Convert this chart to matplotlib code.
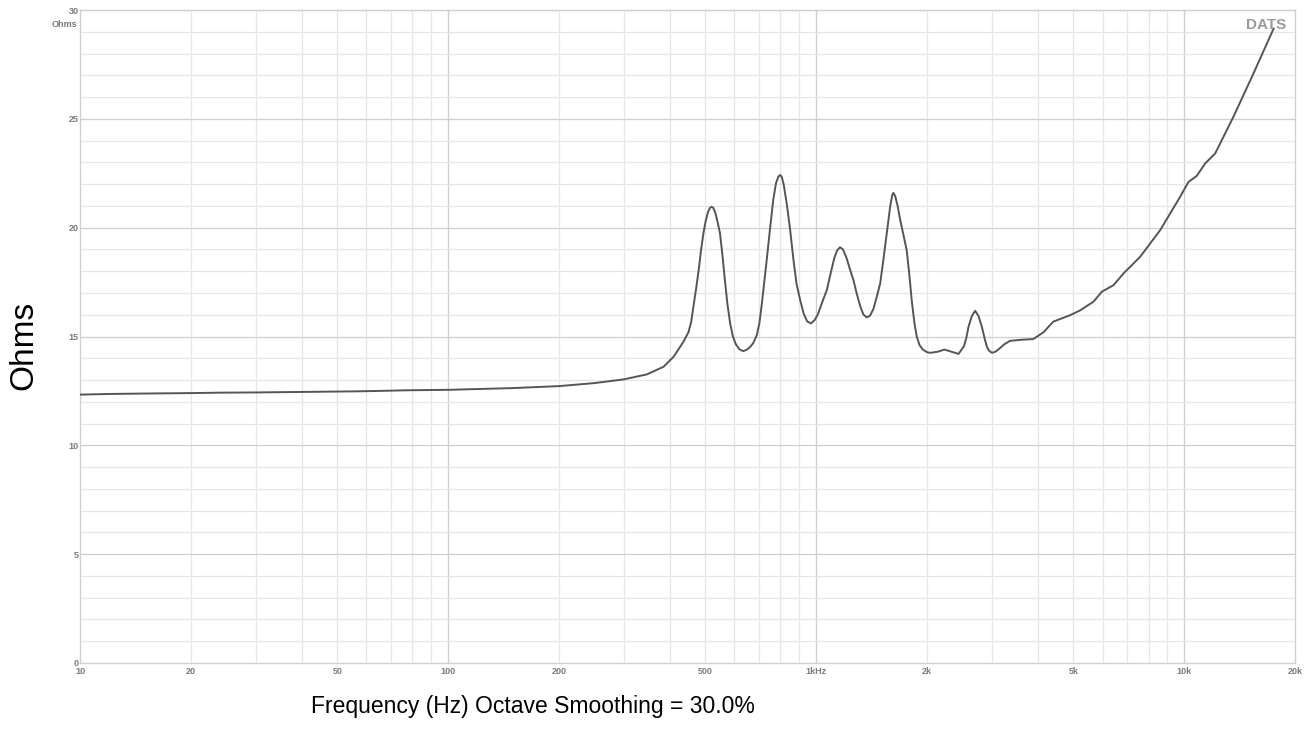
import numpy as np
import matplotlib
matplotlib.use('Agg')
import matplotlib.pyplot as plt
from matplotlib.ticker import FixedLocator, NullFormatter

# impedance curve
freq = [10, 12, 15, 20, 24, 30, 39, 56, 65, 78, 100, 150, 200, 250, 300, 347, 385, 410, 436, 450,
        458, 464, 472, 480, 487, 494, 501, 508, 514, 520, 526, 533, 540, 548, 556, 565, 574, 584,
        594, 605, 618, 633, 646, 660, 675, 690, 701, 712, 723, 734, 750, 765, 778, 790, 798, 806,
        816, 832, 850, 868, 885, 905, 925, 945, 968, 990, 1010, 1040, 1069, 1095, 1120, 1140, 1161,
        1183, 1210, 1235, 1263, 1290, 1320, 1345, 1373, 1400, 1430, 1460, 1493, 1525, 1560, 1590,
        1610, 1622, 1640, 1665, 1690, 1725, 1762, 1790, 1820, 1850, 1877, 1910, 1950, 2000, 2040,
        2140, 2232, 2330, 2437, 2520, 2560, 2594, 2650, 2704, 2760, 2820, 2870, 2910, 2950, 3001,
        3070, 3150, 3250, 3365, 3600, 3890, 4150, 4406, 4900, 5214, 5670, 5975, 6427, 6843, 7590,
        8607, 9750, 10270, 10820, 11400, 12140, 13610, 15420, 17500]
ohms = [12.33, 12.36, 12.38, 12.40, 12.42, 12.43, 12.45, 12.48, 12.50, 12.53, 12.55, 12.63, 12.72,
        12.86, 13.03, 13.26, 13.61, 14.07, 14.76, 15.2, 15.7, 16.37, 17.2, 18.1, 19.0, 19.74, 20.3,
        20.7, 20.9, 20.96, 20.9, 20.65, 20.25, 19.74, 18.8, 17.6, 16.5, 15.6, 15.0, 14.65, 14.42,
        14.33, 14.38, 14.5, 14.7, 15.07, 15.6, 16.5, 17.5, 18.51, 20.0, 21.3, 22.05, 22.35, 22.42,
        22.35, 22.0, 21.1, 19.89, 18.5, 17.4, 16.67, 16.05, 15.7, 15.6, 15.75, 16.0, 16.6, 17.13,
        17.9, 18.6, 18.95, 19.1, 19.0, 18.6, 18.1, 17.59, 16.95, 16.35, 16.0, 15.88, 15.95, 16.25,
        16.8, 17.44, 18.6, 19.9, 21.0, 21.5, 21.6, 21.45, 21.0, 20.4, 19.7, 18.97, 17.9, 16.6, 15.6,
        14.99, 14.6, 14.4, 14.28, 14.25, 14.3, 14.4, 14.3, 14.2, 14.55, 14.95, 15.45, 15.95, 16.18,
        15.95, 15.45, 14.9, 14.53, 14.35, 14.25, 14.3, 14.45, 14.65, 14.8, 14.85, 14.88, 15.2, 15.68,
        15.98, 16.2, 16.6, 17.06, 17.36, 17.9, 18.66, 19.89, 21.42, 22.1, 22.38, 22.95, 23.41, 25.1,
        27.08, 29.15]

xtick_vals = [10, 20, 50, 100, 200, 500, 1000, 2000, 5000, 10000, 20000]
xtick_labels = ['10', '20', '50', '100', '200', '500', '1kHz', '2k', '5k', '10k', '20k']
ytick_vals = [0, 5, 10, 15, 20, 25, 30]
ytick_labels = ['0', '5', '10', '15', '20', '25', '30']

plt.rcParams['font.family'] = ['Liberation Sans', 'DejaVu Sans']

fig = plt.figure(figsize=(13.06, 7.29), dpi=100)
ax = fig.add_axes([80 / 1306, 1 - 663 / 729, (1295 - 80) / 1306, (663 - 10) / 729])

# grid
minor_x = [m * 10 ** d for d in range(1, 5) for m in range(2, 10)]
for v in minor_x:
    if v < 20000:
        ax.axvline(v, color='#e6e6e6', lw=0.9, zorder=0)
for v in [100, 1000, 10000]:
    ax.axvline(v, color='#cfcfcf', lw=1.0, zorder=0)
for v in range(1, 30):
    ax.axhline(v, color='#cfcfcf' if v % 5 == 0 else '#e6e6e6', lw=0.9, zorder=0)

ax.plot(freq, ohms, color='#555555', lw=1.4, zorder=3, solid_joinstyle='round')

ax.set_xscale('log')
ax.set_xlim(10, 20000)
ax.set_ylim(0, 30)
ax.xaxis.set_major_locator(FixedLocator(xtick_vals))
ax.xaxis.set_minor_locator(FixedLocator([]))
ax.xaxis.set_minor_formatter(NullFormatter())
ax.set_xticks(xtick_vals)
ax.set_xticklabels(xtick_labels)
ax.set_yticks(ytick_vals)
ax.set_yticklabels(ytick_labels)
ax.tick_params(axis='both', length=0, labelsize=6.5, labelcolor='#7a7a7a')
ax.tick_params(axis='x', pad=3)
ax.tick_params(axis='y', pad=1)
for t in ax.get_xticklabels() + ax.get_yticklabels():
    t.set_fontweight('bold')
for s in ax.spines.values():
    s.set_color('#d0d0d0')
    s.set_linewidth(1.0)

ax.text(-0.002, 0.985, 'Ohms', transform=ax.transAxes, ha='right', va='top',
        fontsize=6.5, color='#7a7a7a', fontweight='bold')
ax.text(0.993, 0.988, 'DATS', transform=ax.transAxes, ha='right', va='top',
        fontsize=11, color='#9a9a9a', fontweight='bold')

fig.text(24 / 1306, 1 - 345 / 729, 'Ohms', rotation=90, ha='center', va='center',
         fontsize=24, color='black')
fig.text(533 / 1306, 1 - 706 / 729, 'Frequency (Hz) Octave Smoothing = 30.0%',
         ha='center', va='center', fontsize=16.5, color='black')

fig.savefig('out.png', dpi=100, facecolor='white')
